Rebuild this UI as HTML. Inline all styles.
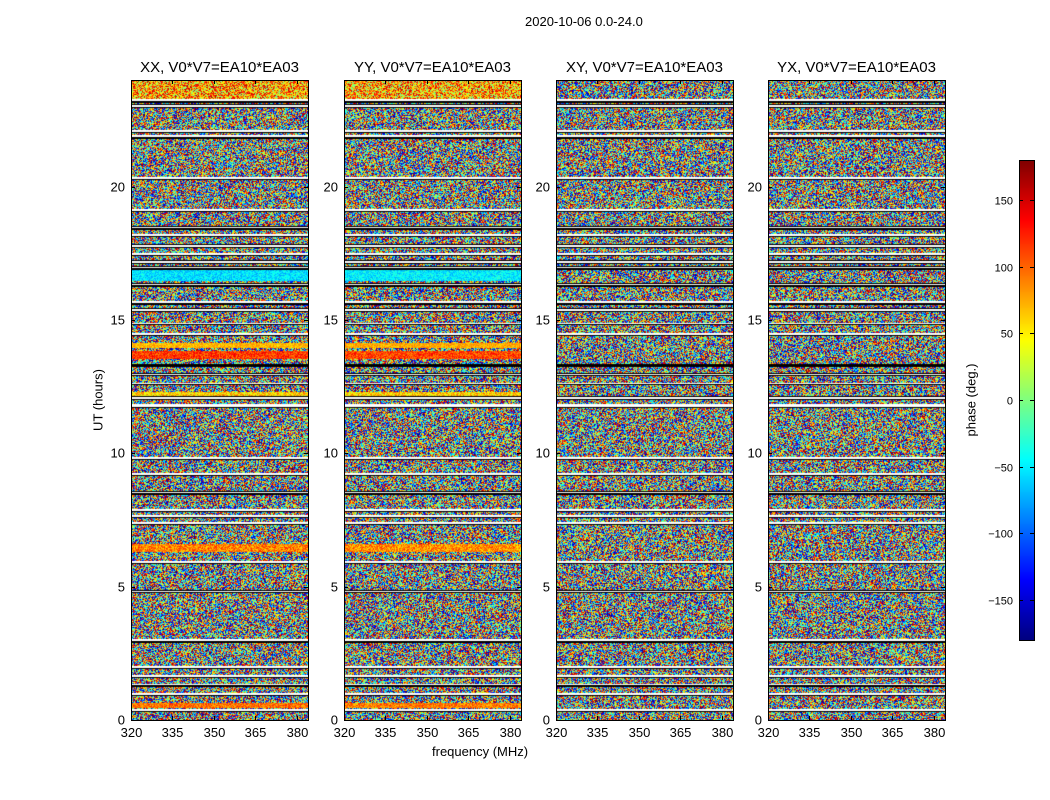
<!DOCTYPE html>
<html><head><meta charset="utf-8">
<style>
body{margin:0;background:#fff;font-family:"Liberation Sans",sans-serif;}
#wrap{position:relative;width:1050px;height:800px;overflow:hidden;background:#fff;}
.t{position:absolute;font-size:13px;color:#000;white-space:nowrap;}
.pt{position:absolute;font-size:15px;color:#000;white-space:nowrap;text-align:center;}
canvas{position:absolute;}
</style></head>
<body>
<div id="wrap">
<div class="t" style="left:525px;top:14px;">2020-10-06 0.0-24.0</div>
<div class="t" style="left:432px;top:744px;">frequency (MHz)</div>
<div class="t" style="top:400px;transform:translate(-50%,-50%) rotate(-90deg);left:98px;">UT (hours)</div>
<div class="t" style="left:971px;top:400px;transform:translate(-50%,-50%) rotate(-90deg);">phase (deg.)</div>
<svg id="svg" width="1050" height="800" style="position:absolute;left:0;top:0"></svg>
</div>
<script>
const panelTitles=["XX, V0*V7=EA10*EA03","YY, V0*V7=EA10*EA03","XY, V0*V7=EA10*EA03","YX, V0*V7=EA10*EA03"];
const panelLeft=[131,344,556,768];
const yTicks=[0,5,10,15,20];
const xTicks=[320,335,350,365,380];
const cbTicks=[-150,-100,-50,0,50,100,150];
// flagged (white) UT intervals
const flagStart=[0.35,0.95,1.3,1.62,1.95,2.95,4.8,5.9,7.35,7.62,7.85,8.5,9.2,9.8,11.75,12.05,12.6,12.95,13.3,14.45,14.85,15.35,15.62,16.3,16.95,17.15,17.45,17.75,18.15,18.45,19.1,20.3,21.85,22.05,23.0,23.2];
const flagEnd  =[0.40,1.0,1.35,1.68,2.02,3.02,4.85,5.95,7.42,7.68,7.9,8.56,9.26,9.86,11.85,12.12,12.63,12.98,13.33,14.5,14.88,15.42,15.7,16.36,17.0,17.22,17.5,17.82,18.22,18.5,19.16,20.36,21.92,22.12,23.08,23.28];
// coherent bands: start, end, phase per panel (XX,YY,XY,YX), spread
const bandStart=[0.45,6.3,13.55,13.95,16.45,23.3,12.15];
const bandEnd  =[0.62,6.6,13.85,14.15,16.9,24.0,12.3];
const bandPhaseXX=[95,90,115,70,-55,75,60];
const bandPhaseYY=[90,85,110,75,-50,70,60];
const bandPhaseXY=[null,null,null,null,null,null,null];
const bandPhaseYX=[null,null,null,null,null,null,null];
const bandSpread=[30,35,30,20,25,90,40];
const bandPhases=[bandPhaseXX,bandPhaseYY,bandPhaseXY,bandPhaseYX];

const PW=177,PT=80,PB=720,UTmax=24,F0=320,F1=384;
const ys=u=>PB-(u/UTmax)*(PB-PT);
const xs=(f,l)=>l+(f-F0)/(F1-F0)*PW;
const cbY=v=>400-v*(480/360);
function jet(v){let t=(v+180)/360;t=Math.max(0,Math.min(1,t));
 const r=Math.min(1,Math.max(0,1.5-Math.abs(4*t-3))),g=Math.min(1,Math.max(0,1.5-Math.abs(4*t-2))),b=Math.min(1,Math.max(0,1.5-Math.abs(4*t-1)));
 return [r*255|0,g*255|0,b*255|0];}
function h(a,b,c){let x=(a*374761393+b*668265263+c*2246822519)|0;x=(x^(x>>>13))*1274126177|0;x^=x>>>16;return ((x>>>0)%10000)/10000;}
const wrap=document.getElementById('wrap'),svg=document.getElementById('svg');
const NS='http://www.w3.org/2000/svg';
function line(x1,y1,x2,y2,nm){const l=document.createElementNS(NS,'line');l.setAttribute('x1',x1);l.setAttribute('y1',y1);l.setAttribute('x2',x2);l.setAttribute('y2',y2);l.setAttribute('stroke','#000');l.setAttribute('stroke-width','1');


svg.appendChild(l);}
function txt(x,y,s,anchor,nm,size){const t=document.createElementNS(NS,'text');t.setAttribute('x',x);t.setAttribute('y',y);t.setAttribute('text-anchor',anchor);t.setAttribute('font-size',size||13);t.setAttribute('font-family','Liberation Sans, sans-serif');t.textContent=s;


svg.appendChild(t);}
panelLeft.forEach((L,p)=>{
 const c=document.createElement('canvas');c.width=PW;c.height=PB-PT;c.style.left=L+'px';c.style.top=PT+'px';
 
 
 wrap.appendChild(c);
 const ctx=c.getContext('2d'),img=ctx.createImageData(PW,PB-PT),d=img.data;
 for(let r=0;r<PB-PT;r++){
  const u=(PB-PT-r-0.5)/(PB-PT)*UTmax;
  let fl=false;for(let i=0;i<flagStart.length;i++)if(u>=flagStart[i]&&u<flagEnd[i])fl=true;
  let edge=false;for(let i=0;i<flagStart.length;i++){const a=ys(flagStart[i])-PT,b=ys(flagEnd[i])-PT;if(Math.abs(r-a)<1||Math.abs(r-b)<1)edge=true;}
  let ph=null,sp=0;for(let i=0;i<bandStart.length;i++)if(u>=bandStart[i]&&u<bandEnd[i]&&bandPhases[p][i]!==null){ph=bandPhases[p][i];sp=bandSpread[i];}
  for(let x=0;x<PW;x++){const k=(r*PW+x)*4;let col;
   if(edge&&!fl)col=[0,0,0];else if(fl)col=[255,255,255];
   else{const n=h(x,r,p);const v=ph===null?n*360-180:ph+(n-0.5)*2*sp;col=jet(((v+540)%360)-180);}
   d[k]=col[0];d[k+1]=col[1];d[k+2]=col[2];d[k+3]=255;}
 }
 ctx.putImageData(img,0,0);
 const tt=document.createElement('div');tt.className='pt';tt.style.left=(L-20)+'px';tt.style.width=(PW+40)+'px';tt.style.top='59px';tt.textContent=panelTitles[p];
 
 
 wrap.appendChild(tt);
});
setTimeout(()=>{wrap.appendChild(svg);},0);
panelLeft.forEach((L,p)=>{
 const r=document.createElementNS(NS,'rect');r.setAttribute('x',L+0.5);r.setAttribute('y',PT+0.5);r.setAttribute('width',PW);r.setAttribute('height',PB-PT);r.setAttribute('fill','none');r.setAttribute('stroke','#000');
 
 
 svg.appendChild(r);
 yTicks.forEach(v=>{const y=Math.round(ys(v))+0.5;line(L,y,L+4,y,'y-tick');line(L+PW-4,y,L+PW,y,'y-tick');txt(L-6,y+4,String(v),'end','y-tick-label');});
 xTicks.forEach(v=>{const x=Math.round(xs(v,L))+0.5;line(x,PB,x,PB-4,'x-tick');line(x,PT,x,PT+4,'x-tick');txt(x,PB+17,String(v),'middle','x-tick-label');});
});
// colorbar
const cb=document.createElement('canvas');cb.width=15;cb.height=480;cb.style.left='1019px';cb.style.top='160px';


wrap.appendChild(cb);
const cx=cb.getContext('2d');for(let y=0;y<480;y++){const c=jet(180-(y+0.5)*360/480);cx.fillStyle=`rgb(${c[0]},${c[1]},${c[2]})`;cx.fillRect(0,y,15,1);}
const cr=document.createElementNS(NS,'rect');cr.setAttribute('x',1019.5);cr.setAttribute('y',160.5);cr.setAttribute('width',15);cr.setAttribute('height',480);cr.setAttribute('fill','none');cr.setAttribute('stroke','#000');


svg.appendChild(cr);
cbTicks.forEach(v=>{const y=Math.round(cbY(v))+0.5;line(1019,y,1023,y,'colorbar-tick');line(1030,y,1034,y,'colorbar-tick');txt(1013,y+4,v<0?'\u2212'+(-v):String(v),'end','colorbar-tick-label',11);});
</script>
</body></html>
